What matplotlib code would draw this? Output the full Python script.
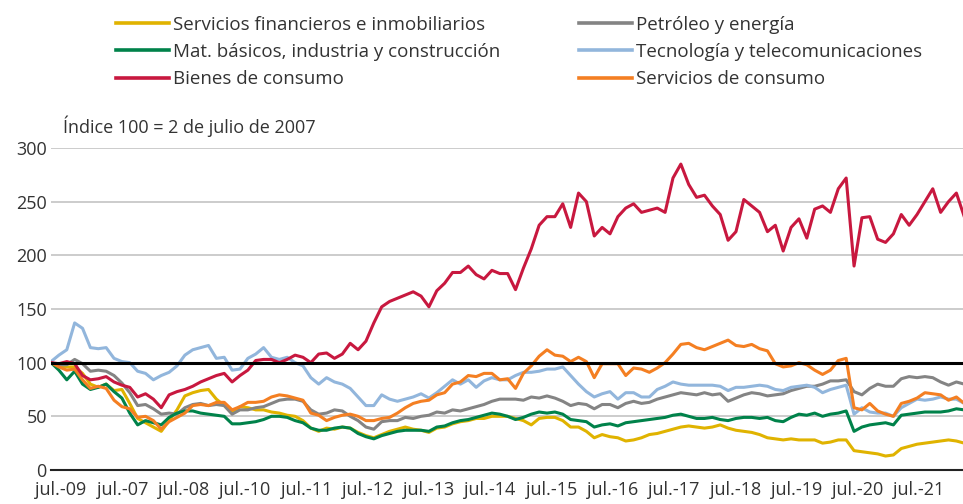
import numpy as np
import matplotlib
matplotlib.use("Agg")
import matplotlib.pyplot as plt

plt.rcParams['font.family'] = ['Open Sans', 'DejaVu Sans']

# time axis: fractional years, every 1.5 months from 2 Jul 2007
t_start = 2007.5
t_step = 0.125

financieros = [100, 97, 96, 96, 90, 80, 77, 80, 74, 75, 62, 48, 44, 40, 36, 46, 56, 69, 72, 74,
               75, 66, 60, 53, 59, 58, 56, 56, 54, 53, 51, 50, 46, 39, 36, 39, 38, 40, 39, 35,
               32, 30, 33, 36, 38, 40, 38, 37, 35, 39, 40, 43, 45, 46, 48, 48, 50, 50, 50, 48,
               46, 42, 48, 49, 49, 46, 40, 40, 36, 30, 33, 31, 30, 27, 28, 30, 33, 34, 36, 38,
               40, 41, 40, 39, 40, 42, 39, 37, 36, 35, 33, 30, 29, 28, 29, 28, 28, 28, 25, 26,
               28, 28, 18, 17, 16, 15, 13, 14, 20, 22, 24, 25, 26, 27, 28, 27, 25]
petroleo = [100, 98, 98, 103, 99, 92, 93, 92, 88, 81, 72, 60, 61, 57, 52, 53, 52, 58, 61, 62,
            60, 61, 60, 52, 56, 56, 58, 59, 62, 65, 66, 66, 64, 56, 52, 53, 56, 55, 50, 46,
            40, 38, 45, 46, 46, 49, 48, 50, 51, 54, 53, 56, 55, 57, 59, 61, 64, 66, 66, 66,
            65, 68, 67, 69, 67, 64, 60, 62, 61, 57, 61, 61, 58, 62, 64, 62, 63, 66, 68, 70,
            72, 71, 70, 72, 70, 71, 64, 67, 70, 72, 71, 69, 70, 71, 74, 76, 78, 78, 80, 83,
            83, 84, 73, 70, 76, 80, 78, 78, 85, 87, 86, 87, 86, 82, 79, 82, 80]
materiales = [100, 93, 84, 92, 80, 75, 77, 80, 73, 67, 53, 42, 46, 44, 42, 49, 53, 55, 55, 53,
              52, 51, 50, 43, 43, 44, 45, 47, 50, 50, 49, 46, 44, 39, 37, 37, 39, 40, 39, 34,
              31, 29, 32, 34, 36, 37, 37, 37, 36, 40, 41, 44, 46, 47, 49, 51, 53, 52, 50, 47,
              49, 52, 54, 53, 54, 52, 47, 46, 45, 40, 42, 43, 41, 44, 45, 46, 47, 48, 49, 51,
              52, 50, 48, 48, 49, 47, 46, 48, 49, 49, 48, 49, 46, 45, 49, 52, 51, 53, 50, 52,
              53, 55, 36, 40, 42, 43, 44, 42, 51, 52, 53, 54, 54, 54, 55, 57, 56]
tecnologia = [101, 107, 112, 137, 132, 114, 113, 114, 104, 101, 100, 92, 90, 84, 88, 91, 97, 107, 112, 114,
              116, 104, 105, 93, 94, 104, 108, 114, 105, 103, 105, 100, 97, 86, 80, 86, 82, 80, 76, 68,
              60, 60, 70, 66, 64, 66, 68, 71, 67, 72, 78, 84, 80, 84, 77, 83, 86, 84, 84, 88,
              91, 91, 92, 94, 94, 96, 88, 80, 73, 68, 71, 73, 66, 72, 72, 68, 68, 75, 78, 82,
              80, 79, 79, 79, 79, 78, 74, 77, 77, 78, 79, 78, 75, 74, 77, 78, 79, 77, 72, 75,
              77, 79, 52, 58, 54, 53, 53, 50, 58, 62, 66, 65, 66, 68, 66, 66, 62]
bienes = [100, 99, 101, 99, 88, 84, 85, 87, 82, 79, 77, 68, 71, 66, 58, 70, 73, 75, 78, 82,
          85, 88, 90, 82, 88, 93, 102, 103, 103, 100, 103, 107, 105, 100, 108, 109, 104, 108, 118, 112,
          120, 137, 152, 157, 160, 163, 166, 162, 152, 167, 174, 184, 184, 190, 182, 178, 186, 183, 183, 168,
          188, 206, 228, 236, 236, 248, 226, 258, 250, 218, 226, 220, 236, 244, 248, 240, 242, 244, 240, 272,
          285, 266, 254, 256, 246, 238, 214, 222, 252, 246, 240, 222, 228, 204, 226, 234, 216, 243, 246, 240,
          262, 272, 190, 235, 236, 215, 212, 220, 238, 228, 238, 250, 262, 240, 250, 258, 236]
serv_consumo = [100, 96, 93, 94, 84, 76, 78, 76, 65, 59, 57, 49, 50, 46, 38, 45, 49, 53, 60, 61,
                60, 63, 63, 56, 59, 63, 63, 64, 68, 70, 69, 67, 65, 53, 51, 46, 49, 51, 52, 50,
                46, 46, 48, 49, 53, 58, 62, 64, 65, 70, 72, 80, 82, 88, 87, 90, 90, 84, 85, 76,
                90, 97, 106, 112, 107, 106, 101, 105, 101, 86, 99, 99, 99, 88, 95, 94, 91, 95, 100, 108,
                117, 118, 114, 112, 115, 118, 121, 116, 115, 117, 113, 111, 99, 96, 97, 100, 98, 93, 89, 93,
                102, 104, 58, 56, 62, 55, 52, 50, 62, 64, 67, 72, 71, 70, 65, 68, 62]

series_labels = ["Servicios financieros e inmobiliarios", "Mat. básicos, industria y construcción",
                 "Bienes de consumo", "Petróleo y energía", "Tecnología y telecomunicaciones",
                 "Servicios de consumo"]
tick_labels = ["jul.-09", "jul.-07", "jul.-08", "jul.-10", "jul.-11", "jul.-12", "jul.-13", "jul.-14",
               "jul.-15", "jul.-16", "jul.-17", "jul.-18", "jul.-19", "jul.-20", "jul.-21"]
y_ticks = [0, 50, 100, 150, 200, 250, 300]

n = len(bienes)
x = t_start + t_step * np.arange(n)

fig = plt.figure(figsize=(9.63, 5.04), dpi=100)
ax = fig.add_axes([0.053, 0.0675, 0.947, 0.6389])

xmin, xmax = t_start, 2021.98
ax.set_xlim(xmin, xmax)
ax.set_ylim(0, 300)

for yv in y_ticks[1:]:
    if yv != 100:
        ax.axhline(yv, color='#c4c4c4', lw=1.2, zorder=0)

cols = {
    'fin': '#e0b300', 'pet': '#848484', 'tec': '#92b6dc',
    'mat': '#00824a', 'ser': '#f47f22', 'bie': '#c8183f'
}
lw = 2.2
l_fin, = ax.plot(x, financieros, color=cols['fin'], lw=lw, zorder=2)
l_pet, = ax.plot(x, petroleo, color=cols['pet'], lw=lw, zorder=2)
l_tec, = ax.plot(x, tecnologia, color=cols['tec'], lw=lw, zorder=2)
l_mat, = ax.plot(x, materiales, color=cols['mat'], lw=lw, zorder=3)
l_ser, = ax.plot(x, serv_consumo, color=cols['ser'], lw=lw, zorder=3)
l_bie, = ax.plot(x, bienes, color=cols['bie'], lw=lw, zorder=4)

ax.axhline(100, color='black', lw=2.2, zorder=5)

for s in ['top', 'right', 'left']:
    ax.spines[s].set_visible(False)
ax.spines['bottom'].set_color('#222222')
ax.spines['bottom'].set_linewidth(1.5)

span = xmax - xmin
tick_pos = np.linspace(xmin + span * 10 / 912, xmin + span * 868 / 912, len(tick_labels))
ax.set_xticks(tick_pos)
ax.set_xticklabels(tick_labels)
ax.set_yticks(y_ticks)
ax.tick_params(axis='both', length=0, labelsize=13, colors='#333333')
ax.tick_params(axis='x', pad=8)
ax.tick_params(axis='y', pad=3)

fig.text(0.0654, 0.75, "Índice 100 = 2 de julio de 2007", fontsize=13, color='#333333', va='center', ha='left')

leg = fig.legend([l_fin, l_mat, l_bie, l_pet, l_tec, l_ser], series_labels, ncol=2,
                 loc='upper left', bbox_to_anchor=(0.105, 0.999), frameon=False,
                 fontsize=13.5, handlelength=2.8, handletextpad=0.25, columnspacing=4.2,
                 labelspacing=0.5, borderpad=0.3)
for txt in leg.get_texts():
    txt.set_color('#333333')
for h in leg.get_lines():
    h.set_linewidth(2.6)

fig.savefig("out.png", dpi=100)
